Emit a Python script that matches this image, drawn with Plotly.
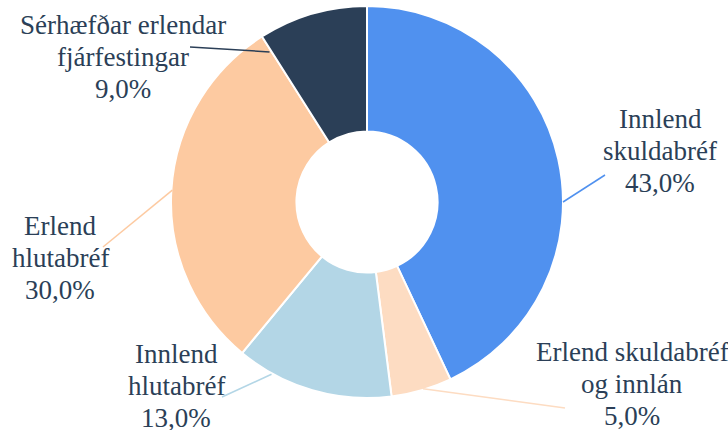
import math
import plotly.graph_objects as go

# Data
categories = ["Innlend<br>skuldabréf", "Erlend skuldabréf<br>og innlán", "Innlend<br>hlutabréf",
              "Erlend<br>hlutabréf", "Sérhæfðar erlendar<br>fjárfestingar"]
values = [43.0, 5.0, 13.0, 30.0, 9.0]
colors = ["#5091EF", "#FDDCC2", "#B3D6E6", "#FDCAA1", "#2B3F57"]

W, H = 728, 430
CX, CY, R = 367, 202, 196
TEXT = "#2B3F57"
FONT = "Liberation Serif, Times New Roman, serif"

# label layout (pixel positions): label center, line end point, anchor angle & radius on pie
label_pos = [(660, 151), (632, 384), (176, 386), (60, 258), (123, 57)]
line_end = [(605, 175), (565, 408), (222, 397), (103, 247), (190, 47)]
anchor = [(90.0, 196), (163.3, 195), (209.0, 197), (273.5, 195), (327.0, 179)]

fig = go.Figure(go.Pie(
    values=values,
    labels=[c.replace("<br>", " ") for c in categories],
    sort=False,
    direction="clockwise",
    rotation=0,
    hole=0.36,
    marker=dict(colors=colors, line=dict(color="white", width=2)),
    textinfo="none",
    hoverinfo="label+percent",
    domain=dict(x=[(CX - R) / W, (CX + R) / W], y=[1 - (CY + R) / H, 1 - (CY - R) / H]),
    showlegend=False,
))

def px(x, y):
    return x / W, 1 - y / H

for i, (cat, v) in enumerate(zip(categories, values)):
    lx, ly = label_pos[i]
    lines = cat.split("<br>") + [f"{v:.1f}".replace(".", ",") + "%"]
    for j, t in enumerate(lines):
        ax_, ay_ = px(lx, ly + (j - 1) * 32)
        fig.add_annotation(x=ax_, y=ay_, xref="paper", yref="paper", showarrow=False,
                           text=t, font=dict(family=FONT, size=27, color=TEXT),
                           align="center", xanchor="center", yanchor="middle")
    ang, rr = anchor[i]
    sx = CX + rr * math.sin(math.radians(ang))
    sy = CY - rr * math.cos(math.radians(ang))
    x0, y0 = px(sx, sy)
    x1, y1 = px(*line_end[i])
    fig.add_shape(type="line", xref="paper", yref="paper", x0=x0, y0=y0, x1=x1, y1=y1,
                  line=dict(color=colors[i], width=1.5), layer="above")

fig.update_layout(width=W, height=H, margin=dict(l=0, r=0, t=0, b=0),
                  paper_bgcolor="white", plot_bgcolor="white",
                  font=dict(family=FONT))
fig.write_html("out.html", config={"displayModeBar": False},
               post_script="document.body.style.margin='0';document.body.style.overflow='hidden';")
